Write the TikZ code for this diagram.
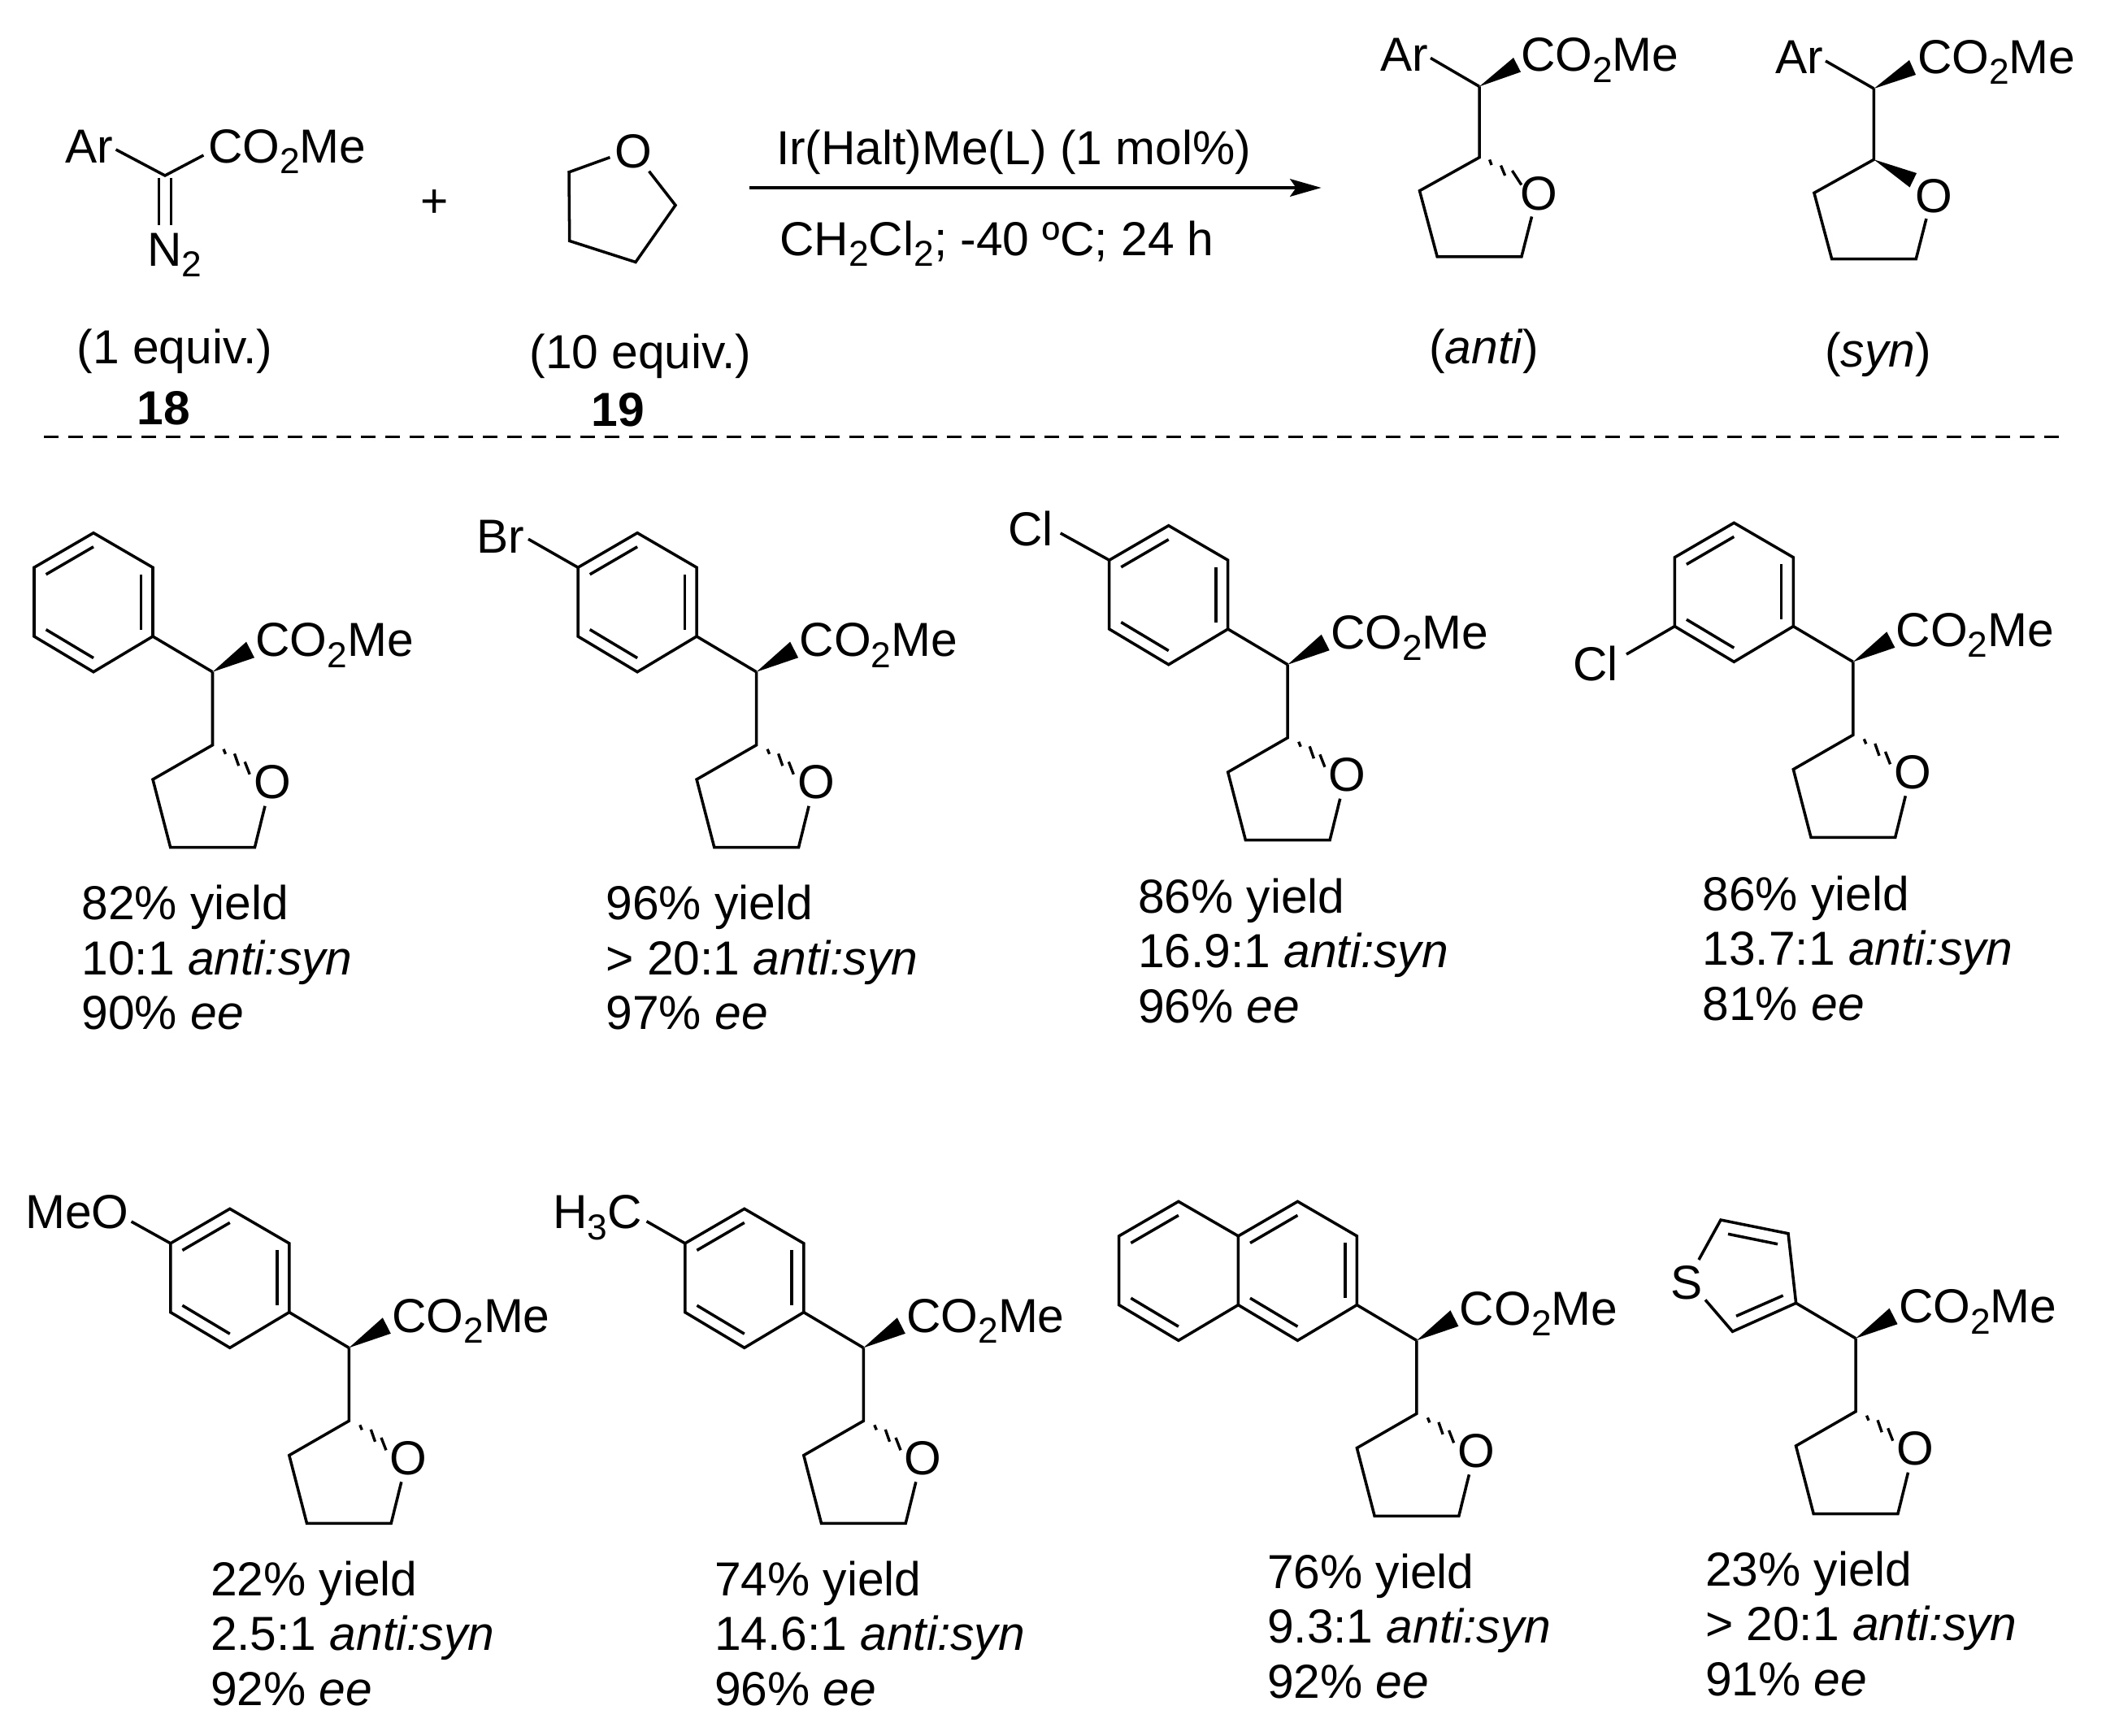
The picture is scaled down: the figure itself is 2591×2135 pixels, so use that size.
\documentclass[tikz,border=0pt]{standalone}
\usepackage{fontspec}
\setmainfont{Liberation Sans}
\usetikzlibrary{calc,arrows.meta}
\newcommand\subs[1]{\raisebox{-0.23em}{\fontsize{12.6}{12.6}\selectfont #1}}
\tikzset{
  bond/.style={line width=1pt,line join=miter},
  hashb/.style={line width=0.95pt},
  lab/.style={inner sep=0pt,outer sep=0pt,font=\fontsize{16.7}{20}\selectfont},
  txtw/.style={lab,anchor=base west},
  txte/.style={lab,anchor=base east},
  txtc/.style={lab,anchor=base},
  atom/.style={lab,anchor=center},
}
% THF ring and chain
\newcommand\core[4]{%
  \begin{scope}[shift={(#2,#3)},yscale=#4]
    \coordinate (#1c) at (0,0);
    \coordinate (#1r) at (0,90);
    \coordinate (#1l) at (-73.5,132.3);
    \coordinate (#1bl) at (-51.8,216);
    \coordinate (#1br) at (51.9,216);
    \coordinate (#1oe) at (64.5,165);
    \node[atom] (#1o) at (73.5,136) {O};
  \end{scope}
  \draw[bond] (#1c) -- (#1r) -- (#1l) -- (#1bl) -- (#1br) -- (#1oe);
}
% core + ester, anti
\newcommand\mol[3]{%
  \core{#1}{#2}{#3}{1}
  \begin{scope}[shift={(#2,#3)}]
    \coordinate (#1w1) at (41.5,-37);
    \coordinate (#1w2) at (51.5,-17.5);
    \node[txtw] (#1e) at (53,-19) {CO\subs{2}Me};
    \draw[hashb] (13.5,95) -- (16,101);
    \draw[hashb] (27,100.6) -- (32.2,115.5);
    \draw[hashb] (39.7,110.6) -- (45.7,126);
  \end{scope}
  \fill (#1c) -- (#1w1) -- (#1w2) -- cycle;
}
% benzene ring on the chain
\newcommand\benz[3]{%
  \begin{scope}[shift={(#2,#3)}]
    \coordinate (#1ctr) at (-146.5,-85.7);
    \coordinate (#1T) at (-146.5,-171);
    \coordinate (#1UR) at (-73.5,-128.5);
    \coordinate (#1LR) at (-73.5,-43.7);
    \coordinate (#1B) at (-146.5,0);
    \coordinate (#1LL) at (-219.5,-43.7);
    \coordinate (#1UL) at (-219.5,-128.5);
  \end{scope}
  \draw[bond] (#1T) -- (#1UR) -- (#1LR) -- (#1B) -- (#1LL) -- (#1UL) -- cycle;
  \draw[bond] (#1LR) -- (#1c);
  \draw[bond] ($(#1ctr)!.8!(#1UL)$) -- ($(#1ctr)!.8!(#1T)$);
  \draw[bond] ($(#1ctr)!.8!(#1UR)$) -- ($(#1ctr)!.8!(#1LR)$);
  \draw[bond] ($(#1ctr)!.8!(#1LL)$) -- ($(#1ctr)!.8!(#1B)$);
}
\newcommand\yield[6]{%
  \node[txtw] (#1a) at (#2,#3) {#4};
  \node[txtw] (#1b) at (#2,#3+67.6) {#5};
  \node[txtw] (#1d) at (#2,#3+135.2) {#6};
}
\newcommand\as{\textit{anti:syn}}
\newcommand\eeb{\textit{ee}}
\begin{document}
\begin{tikzpicture}[x=0.01cm,y=-0.01cm]
\useasboundingbox (0,0) rectangle (2591,2135);
% diazo 18
\coordinate (dc) at (203,216);
\coordinate (darb) at (142.6,184);
\coordinate (desb) at (250.4,191);
\node[txte] (dar) at (139,200) {Ar};
\node[txtw] (des) at (256,200) {CO\subs{2}Me};
\node[txtc] (dn) at (215,327) {N\subs{2}};
\draw[bond] (darb) -- (dc) -- (desb);
\coordinate (dd1a) at (195.7,218.6); \coordinate (dd1b) at (195.7,276.8);
\coordinate (dd2a) at (210.6,218.6); \coordinate (dd2b) at (210.6,276.8);
\draw[bond] (dd1a) -- (dd1b);
\draw[bond] (dd2a) -- (dd2b);
\node[atom] (plus) at (535,251) {+};
% THF 19
\node[atom] (to) at (779.5,186.4) {O};
\coordinate (t1) at (750.4,193.6);
\coordinate (t2) at (700,211.8);
\coordinate (t3) at (700.7,296.4);
\coordinate (t4) at (782,322.5);
\coordinate (t5) at (831,252.5);
\coordinate (t6) at (798.5,210.7);
\draw[bond] (t1) -- (t2) -- (t3) -- (t4) -- (t5) -- (t6);
\node[txtc] (n1) at (215,447.5) {(1 equiv.)};
\node[txtc] (n18) at (201.5,522.5) {\textbf{18}};
\node[txtc] (n2) at (788,453.6) {(10 equiv.)};
\node[txtc] (n19) at (760,524.3) {\textbf{19}};
% arrow
\coordinate (arrS) at (921.8,231);
\coordinate (arrE) at (1625.6,231);
\draw[line width=1pt,-{Stealth[length=0.385cm,width=0.217cm,inset=0.075cm]}] (arrS) -- (arrE);
\node[txtw] (cat) at (955,202.7) {Ir(Halt)Me(L) (1 mol\%)};
\node[txtw] (cond) at (959.5,314) {CH\subs{2}Cl\subs{2}; -40 ºC; 24 h};
% anti product
\core{pa}{1820}{106.4}{0.97}
\coordinate (paar) at (1760,71.4);
\draw[bond] (paar) -- (pac);
\node[txte] (paa) at (1757,87.5) {Ar};
\node[txtw] (pae) at (1871,87.5) {CO\subs{2}Me};
\coordinate (paw1) at (1862,71); \coordinate (paw2) at (1871,88.5);
\fill (pac) -- (paw1) -- (paw2) -- cycle;
\draw[hashb] (1832.6,196.4) -- (1835,203);
\draw[hashb] (1846.5,203.6) -- (1851.6,216);
\draw[hashb] (1860.4,210) -- (1871.8,227.5);
\node[txtc] (anti) at (1825.7,447.5) {(\textit{anti})};
% syn product
\core{ps}{2305.4}{109}{0.97}
\coordinate (psar) at (2246,75);
\draw[bond] (psar) -- (psc);
\node[txte] (psa) at (2243,90.4) {Ar};
\node[txtw] (pse) at (2359,90.4) {CO\subs{2}Me};
\coordinate (psw1) at (2349,74); \coordinate (psw2) at (2357,92);
\fill (psc) -- (psw1) -- (psw2) -- cycle;
\coordinate (psw3) at (2358,213); \coordinate (psw4) at (2349.5,230.5);
\fill (psr) -- (psw3) -- (psw4) -- cycle;
\node[txtc] (syn) at (2310.5,451) {(\textit{syn})};
% dashed rule
\coordinate (dashL) at (54,537.5);
\coordinate (dashR) at (2535.5,537.5);
\draw[line width=1pt,dash pattern=on 0.18cm off 0.12cm] (dashL) -- (dashR);
% 1
\mol{a}{261.5}{826.7}\benz{a}{261.5}{826.7}
\yield{ya}{100.5}{1131.7}{82\% yield}{10:1 \as}{90\% \eeb}
% 2
\mol{b}{930.6}{826.7}\benz{b}{930.6}{826.7}
\coordinate (bxe) at (650,663.3);
\draw[bond] (bUL) -- (bxe);
\node[txte] (bx) at (645,680) {Br};
\yield{yb}{745.5}{1131.7}{96\% yield}{> 20:1 \as}{97\% \eeb}
% 3
\mol{c}{1584.2}{817.7}\benz{c}{1584.2}{817.7}
\coordinate (cxe) at (1304.7,656);
\draw[bond] (cUL) -- (cxe);
\node[txte] (cx) at (1296,671) {Cl};
\yield{yc}{1400}{1123.3}{86\% yield}{16.9:1 \as}{96\% \eeb}
% 4
\mol{d}{2279.8}{814.3}\benz{d}{2279.8}{814.3}
\coordinate (dxe) at (2001,805);
\draw[bond] (dLL) -- (dxe);
\node[txte] (dx) at (1991,837.7) {Cl};
\yield{yd}{2094.5}{1120}{86\% yield}{13.7:1 \as}{81\% \eeb}
% 5
\mol{e}{429.3}{1658.3}\benz{e}{429.3}{1658.3}
\coordinate (exe) at (161.6,1503);
\draw[bond] (eUL) -- (exe);
\node[txte] (ex) at (158.5,1511.7) {MeO};
\yield{ye}{259}{1963}{22\% yield}{2.5:1 \as}{92\% \eeb}
% 6
\mol{f}{1062.3}{1658.3}\benz{f}{1062.3}{1658.3}
\coordinate (fxe) at (795.5,1502.7);
\draw[bond] (fUL) -- (fxe);
\node[txte] (fx) at (789.5,1511.7) {H\subs{3}C};
\yield{yf}{879}{1963}{74\% yield}{14.6:1 \as}{96\% \eeb}
% 7 naphthyl
\mol{g}{1742.9}{1649.3}\benz{g}{1742.9}{1649.3}
\begin{scope}[shift={(1742.9,1649.3)}]
  \coordinate (gT2) at (-293,-171);
  \coordinate (gUL2) at (-366.2,-128.5);
  \coordinate (gLL2) at (-366.2,-43.7);
  \coordinate (gB2) at (-293,0);
  \coordinate (gctr2) at (-293,-85.7);
\end{scope}
\draw[bond] (gUL) -- (gT2) -- (gUL2) -- (gLL2) -- (gB2) -- (gLL);
\draw[bond] ($(gctr2)!.8!(gUL2)$) -- ($(gctr2)!.8!(gT2)$);
\draw[bond] ($(gctr2)!.8!(gLL2)$) -- ($(gctr2)!.8!(gB2)$);
\yield{yg}{1559}{1954}{76\% yield}{9.3:1 \as}{92\% \eeb}
% 8 thienyl
\mol{h}{2283}{1646.7}
\begin{scope}[shift={(2283,1646.7)}]
  \coordinate (h1) at (-73.4,-43.4);
  \coordinate (h2) at (-83,-129);
  \coordinate (h3) at (-166,-145.7);
  \coordinate (h4) at (-193,-96.7);
  \coordinate (h5) at (-185,-47.4);
  \coordinate (h6) at (-151.5,-8.4);
  \coordinate (hi1) at (-89.3,-52.7);
  \coordinate (hi2) at (-147,-27.4);
  \coordinate (hi3) at (-157,-128.4);
  \coordinate (hi4) at (-96,-116);
  \node[txtc] (hs) at (-208,-48.7) {S};
\end{scope}
\draw[bond] (hc) -- (h1) -- (h2) -- (h3) -- (h4);
\draw[bond] (h5) -- (h6) -- (h1);
\draw[bond] (hi1) -- (hi2);
\draw[bond] (hi3) -- (hi4);
\yield{yh}{2098}{1951}{23\% yield}{> 20:1 \as}{91\% \eeb}
\end{tikzpicture}
\end{document}
